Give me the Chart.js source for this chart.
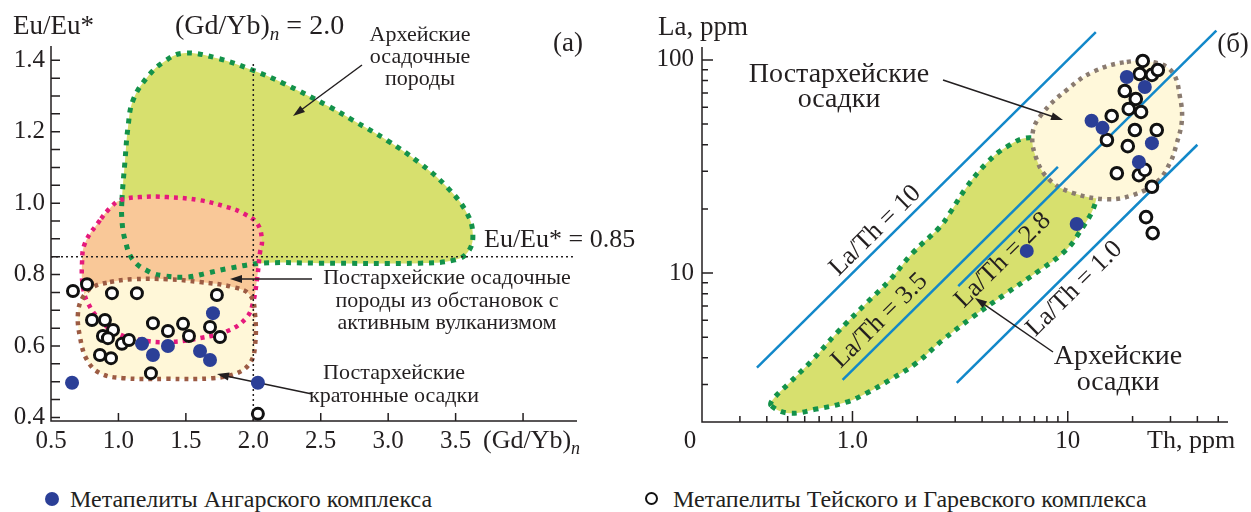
<!DOCTYPE html>
<html>
<head>
<meta charset="utf-8">
<script src="https://cdn.jsdelivr.net/npm/chart.js@4.4.1/dist/chart.umd.min.js"></script>
<style>
  body { margin: 0; background: #fff; width: 1251px; height: 512px; overflow: hidden; position: relative;
         font-family: "Liberation Serif", "Times New Roman", serif; color: #231f20; }
  #ca { position: absolute; left: 0; top: 0; }
  #cb { position: absolute; left: 640px; top: 0; }
  .leg { position: absolute; top: 484px; font-size: 24px; line-height: 30px; white-space: nowrap; }
  .mk { position: absolute; top: 492px; border-radius: 50%; box-sizing: border-box; }
</style>
</head>
<body>
<canvas id="ca" width="640" height="462"></canvas>
<canvas id="cb" width="611" height="462"></canvas>
<div class="mk" style="left:45px;width:14px;height:14px;background:#2b3f97"></div>
<div class="leg" style="left:70px">Метапелиты Ангарского комплекса</div>
<div class="mk" style="left:645px;width:13px;height:13px;border:2.5px solid #111;background:#fff"></div>
<div class="leg" style="left:673px">Метапелиты Тейского и Гаревского комплекса</div>
<script>
// ---------- panel (а): Eu/Eu* vs (Gd/Yb)n ----------
const gdybAngara = [0.656, 1.175, 1.256, 1.367, 1.605, 1.679, 1.701, 2.034];
const euAngara   = [0.497, 0.606, 0.575, 0.600, 0.586, 0.561, 0.692, 0.497];
const gdybTeya = [0.663, 0.767, 0.952, 1.137, 1.730, 0.804, 0.900, 0.960, 0.885, 0.922, 1.026,
                  1.078, 0.863, 0.945, 1.256, 1.367, 1.479, 1.523, 1.679, 1.753, 1.241, 2.034];
const euTeya   = [0.754, 0.773, 0.748, 0.748, 0.743, 0.673, 0.673, 0.645, 0.628, 0.622, 0.606,
                  0.617, 0.575, 0.566, 0.664, 0.642, 0.662, 0.628, 0.653, 0.625, 0.524, 0.410];

// field outlines (а)
const archeanAx = [1.026, 1.049, 1.071, 1.108, 1.212, 1.330, 1.479, 1.731, 1.997, 2.220, 2.568, 2.739, 2.991, 3.235, 3.436,
                   3.584, 3.628, 3.591, 3.495, 3.235, 2.494, 2.072, 1.827, 1.656, 1.508, 1.345, 1.234, 1.108, 1.049, 1.026];
const archeanAy = [1.008, 1.120, 1.213, 1.288, 1.352, 1.394, 1.420, 1.406, 1.372, 1.336, 1.269, 1.232, 1.176, 1.112, 1.045,
                   0.972, 0.910, 0.863, 0.841, 0.832, 0.832, 0.832, 0.818, 0.804, 0.793, 0.796, 0.807, 0.841, 0.897, 0.952];
const volcanicX = [0.863, 0.752, 0.730, 0.737, 0.774, 0.863, 0.989, 1.160, 1.360, 1.605, 1.827, 1.953,
                   1.997, 2.027, 2.049, 2.064, 2.027, 1.923, 1.805, 1.605, 1.360, 1.160, 1.011, 0.937];
const volcanicY = [0.952, 0.888, 0.832, 0.765, 0.720, 0.673, 0.636, 0.617, 0.611, 0.622, 0.645, 0.681,
                   0.720, 0.785, 0.860, 0.897, 0.944, 0.972, 0.989, 1.008, 1.017, 1.017, 1.008, 0.986];
const cratonX = [0.937, 1.108, 1.360, 1.605, 1.849, 1.975, 2.012, 2.012, 1.975, 1.879,
                 1.701, 1.360, 1.034, 0.863, 0.767, 0.715, 0.700, 0.737, 0.811];
const cratonY = [0.779, 0.787, 0.787, 0.779, 0.765, 0.743, 0.692, 0.597, 0.552, 0.524,
                 0.510, 0.508, 0.510, 0.524, 0.561, 0.625, 0.692, 0.737, 0.765];

const gdybRef = 2.0;
const euRef = 0.85;
const aXTicks = [0.5, 1.0, 1.5, 2.0, 2.5, 3.0, 3.5, 4.0];
const aXLabels = ['0.5', '1.0', '1.5', '2.0', '2.5', '3.0', '3.5', ''];
const aYLabelValues = [0.4, 0.6, 0.8, 1.0, 1.2, 1.4];
const aYLabels = ['0.4', '0.6', '0.8', '1.0', '1.2', '1.4'];

// ---------- panel (б): La vs Th ----------
const thAngara = [18.8, 22.8, 12.9, 14.5, 24.6, 21.4, 6.45, 11.0];
const laAngara = [83.2, 74.6, 51.8, 48.0, 40.7, 33.2, 12.7, 17.0];
const thTeya = [22.3, 21.6, 24.6, 26.2, 18.4, 20.7, 19.2, 21.9, 16.0, 20.5, 25.9, 15.2, 19.0, 16.9, 21.4, 22.8, 24.6, 23.1, 24.8];
const laTeya = [98.9, 85.9, 85.1, 89.7, 71.5, 65.6, 58.9, 57.0, 54.6, 46.9, 46.9, 42.1, 39.4, 29.4, 28.8, 30.5, 25.4, 18.3, 15.4];

const archeanBx = [0.420, 0.509, 0.680, 0.938, 1.16, 1.49, 1.98, 2.62, 3.61, 5.20, 7.41, 9.48, 11.0, 13.6, 12.7,
                   9.68, 6.66, 5.20, 4.20, 3.39, 2.83, 2.54, 1.90, 1.49, 1.16, 0.843, 0.652, 0.509, 0.425];
const archeanBy = [2.38, 2.20, 2.30, 2.48, 2.73, 3.15, 3.78, 4.84, 6.21, 8.05, 10.3, 12.4, 14.8, 22.5, 30.5,
                   38.6, 43.1, 39.1, 32.8, 25.3, 19.1, 16.4, 12.4, 9.27, 7.22, 5.22, 3.91, 3.05, 2.54];
const postArchX = [18.8, 25.9, 30.8, 33.2, 33.9, 32.1, 29.8, 25.9, 20.0, 15.2, 10.5, 8.25, 7.18, 6.87, 7.65, 9.89, 13.1];
const postArchY = [97.9, 96.8, 86.9, 67.0, 52.2, 40.7, 32.8, 26.7, 23.2, 22.2, 23.8, 27.3, 34.0, 45.4, 56.4, 72.3, 87.9];

const laThRatios = [10, 3.5, 2.8, 1.0];
const laThFrom = [0.36, 0.90, 3.1, 3.05];
const laThTo = [13.5, 9.0, 49, 40];
const laThLabels = ['La/Th = 10', 'La/Th = 3.5', 'La/Th = 2.8', 'La/Th = 1.0'];

const bYMinor = [3, 4, 5, 6, 7, 8, 9, 20, 30, 40, 50, 60, 70, 80, 90];
const bYMajor = [10, 100];
const bXMinor = [0.3, 0.4, 0.5, 0.6, 0.7, 0.8, 0.9, 2, 3, 4, 5, 6, 7, 8, 9, 20, 30, 40, 50];
const bXMajor = [1, 10];

const INK = '#231f20';
const FONT = '"Liberation Serif", "Times New Roman", serif';
const pts = (xs, ys) => xs.map((x, i) => ({ x: x, y: ys[i] }));

function txt(ctx, s, x, y, size, align, style) {
    ctx.font = (style || '') + ' ' + size + 'px ' + FONT;
    ctx.textAlign = align || 'center';
    ctx.textBaseline = 'middle';
    ctx.fillStyle = INK;
    ctx.fillText(s, x, y);
    return ctx.measureText(s).width;
}

// "(Gd/Yb)" + italic subscript n + tail
function gdyb(ctx, x, y, size, tail) {
    let w = txt(ctx, '(Gd/Yb)', x, y, size, 'left');
    let w2 = txt(ctx, 'n', x + w, y + 8, Math.round(size * 0.68), 'left', 'italic');
    if (tail) txt(ctx, tail, x + w + w2, y, size, 'left');
}

function arrow(ctx, x0, y0, x1, y1) {
    const a = Math.atan2(y1 - y0, x1 - x0), L = 12, W = 4;
    ctx.save();
    ctx.strokeStyle = INK; ctx.fillStyle = INK; ctx.lineWidth = 1.5;
    ctx.beginPath(); ctx.moveTo(x0, y0); ctx.lineTo(x1 - 8 * Math.cos(a), y1 - 8 * Math.sin(a)); ctx.stroke();
    ctx.beginPath(); ctx.moveTo(x1, y1);
    ctx.lineTo(x1 - L * Math.cos(a) + W * Math.sin(a), y1 - L * Math.sin(a) - W * Math.cos(a));
    ctx.lineTo(x1 - L * Math.cos(a) - W * Math.sin(a), y1 - L * Math.sin(a) + W * Math.cos(a));
    ctx.closePath(); ctx.fill();
    ctx.restore();
}

// close the outlines smoothly, the way the radar chart does it
const loopShapes = {
    id: 'loopShapes',
    afterDatasetsUpdate(chart) {
        chart.data.datasets.forEach((ds, i) => {
            if (ds.closed) {
                const line = chart.getDatasetMeta(i).dataset;
                if (line) { line._loop = true; line._fullLoop = true; }
            }
        });
    }
};

function fieldFill(xs, ys, color, order) {
    return { data: pts(xs, ys), closed: true, showLine: true, fill: 'shape', backgroundColor: color,
             borderWidth: 0, pointRadius: 0, tension: 0.4, order: order };
}
function fieldLine(xs, ys, color, width, dash, order) {
    return { data: pts(xs, ys), closed: true, showLine: true, fill: false, borderColor: color,
             borderWidth: width, borderDash: dash, borderCapStyle: 'butt', pointRadius: 0, tension: 0.4, order: order };
}

const common = {
    responsive: false,
    animation: false,
    events: [],
    elements: { line: { capBezierPoints: false } },
    plugins: { legend: { display: false }, tooltip: { enabled: false } }
};

// ---------------- chart (а) ----------------
const axesA = {
    id: 'axesA',
    afterDatasetDraw(chart, args) {
        if (args.index !== 2) return;
        const ctx = chart.ctx;
        ctx.save();
        txt(ctx, 'Архейские', 420, 35, 22);
        txt(ctx, 'осадочные', 420, 57, 22);
        txt(ctx, 'породы', 420, 79, 22);
        arrow(ctx, 362, 65, 293, 116);
        txt(ctx, 'Eu/Eu* = 0.85', 484, 240, 26, 'left');
        txt(ctx, 'Постархейские осадочные', 447, 278, 22);
        txt(ctx, 'породы из обстановок с', 447, 301, 22);
        txt(ctx, 'активным вулканизмом', 447, 323, 22);
        arrow(ctx, 312, 279, 230, 279);
        txt(ctx, 'Постархейские', 394, 373, 22);
        txt(ctx, 'кратонные осадки', 394, 396, 22);
        arrow(ctx, 312, 394, 217, 374);
        ctx.restore();
    },
    afterDraw(chart) {
        const { ctx, chartArea: a, scales: { x, y } } = chart;
        ctx.save();
        ctx.strokeStyle = INK; ctx.lineWidth = 1.5;
        ctx.beginPath();
        ctx.moveTo(a.left, a.top); ctx.lineTo(a.left, a.bottom); ctx.lineTo(a.right, a.bottom);
        aXTicks.forEach(v => { const p = x.getPixelForValue(v); ctx.moveTo(p, a.bottom); ctx.lineTo(p, a.bottom - 8); });
        for (let k = 8; k <= 28; k++) {
            const p = y.getPixelForValue(k * 0.05);
            ctx.moveTo(a.left, p); ctx.lineTo(a.left + 9, p);
        }
        ctx.stroke();
        aXTicks.forEach((v, i) => txt(ctx, aXLabels[i], x.getPixelForValue(v), 441, 25));
        aYLabelValues.forEach((v, i) => txt(ctx, aYLabels[i], 45, y.getPixelForValue(v), 25, 'right'));
        gdyb(ctx, 483, 441, 26);
        txt(ctx, 'Eu/Eu*', 13, 27, 27, 'left');
        gdyb(ctx, 175, 27, 28, ' = 2.0');
        txt(ctx, '(а)', 568, 44, 27);
        ctx.restore();
    }
};

new Chart(document.getElementById('ca'), {
    type: 'scatter',
    data: {
        datasets: [
            { data: pts(gdybAngara, euAngara), pointRadius: 7, pointBackgroundColor: '#2b3f97', pointBorderWidth: 0, order: 0 },
            { data: pts(gdybTeya, euTeya), pointRadius: 5.5, pointBackgroundColor: '#fff', pointBorderColor: '#111', pointBorderWidth: 3, order: 0 },
            { data: [{ x: gdybRef, y: 0.39 }, { x: gdybRef, y: 1.39 }], showLine: true, borderColor: INK, borderWidth: 1.5,
              borderDash: [2, 3], pointRadius: 0, order: 1 },
            { data: [{ x: 0.5, y: euRef }, { x: 4.37, y: euRef }], showLine: true, borderColor: INK, borderWidth: 1.5,
              borderDash: [2, 3], pointRadius: 0, order: 1, clip: false },
            fieldLine(cratonX, cratonY, '#9c5b43', 4.5, [4, 5], 2),
            fieldLine(volcanicX, volcanicY, '#e5197c', 4.5, [4, 5], 3),
            fieldLine(archeanAx, archeanAy, '#13924a', 5, [5, 6], 4),
            fieldFill(cratonX, cratonY, '#fff7d8', 5),
            fieldFill(volcanicX, volcanicY, '#f9c898', 6),
            fieldFill(archeanAx, archeanAy, '#d7e06e', 7)
        ]
    },
    options: Object.assign({}, common, {
        layout: { padding: { left: 51, top: 46, right: 63, bottom: 41 } },
        scales: {
            x: { type: 'linear', min: 0.5, max: 4.4, display: false },
            y: { type: 'linear', min: 0.39, max: 1.44, display: false }
        }
    }),
    plugins: [loopShapes, axesA]
});

// ---------------- chart (б) ----------------
const OX = 640;
const axesB = {
    id: 'axesB',
    afterDatasetDraw(chart, args) {
        if (args.index !== 2) return;
        const { ctx, scales: { x, y } } = chart;
        ctx.save();
        laThRatios.forEach((k, i) => {
            const x0 = x.getPixelForValue(laThFrom[i]), y0 = y.getPixelForValue(k * laThFrom[i]);
            const x1 = x.getPixelForValue(laThTo[i]), y1 = y.getPixelForValue(k * laThTo[i]);
            const ang = Math.atan2(y1 - y0, x1 - x0);
            const len = Math.hypot(x1 - x0, y1 - y0);
            const nx = (y1 - y0) / len, ny = -(x1 - x0) / len;
            const at = [1.42, 1.51, 4.53, 9.53][i], off = [14, 16, -13, -16][i];
            const cx = x.getPixelForValue(at) + nx * off, cy = y.getPixelForValue(k * at) + ny * off;
            ctx.save();
            ctx.translate(cx, cy); ctx.rotate(ang);
            txt(ctx, laThLabels[i], 0, 0, 26);
            ctx.restore();
        });
        txt(ctx, 'Постархейские', 839 - OX, 75, 28);
        txt(ctx, 'осадки', 839 - OX, 100, 28);
        arrow(ctx, 943 - OX, 80, 1063 - OX, 120);
        txt(ctx, 'Архейские', 1118 - OX, 357, 28);
        txt(ctx, 'осадки', 1118 - OX, 383, 28);
        arrow(ctx, 1053 - OX, 352, 975 - OX, 298);
        ctx.restore();
    },
    afterDraw(chart) {
        const { ctx, chartArea: a, scales: { x, y } } = chart;
        ctx.save();
        ctx.strokeStyle = INK; ctx.lineWidth = 1.5;
        ctx.beginPath();
        ctx.moveTo(a.left, a.top); ctx.lineTo(a.left, a.bottom); ctx.lineTo(a.right, a.bottom);
        bXMinor.forEach(v => { const p = x.getPixelForValue(v); ctx.moveTo(p, a.bottom); ctx.lineTo(p, a.bottom - 6); });
        bXMajor.forEach(v => { const p = x.getPixelForValue(v); ctx.moveTo(p, a.bottom); ctx.lineTo(p, a.bottom - 11); });
        bYMinor.forEach(v => { const p = y.getPixelForValue(v); ctx.moveTo(a.left, p); ctx.lineTo(a.left + 6, p); });
        bYMajor.forEach(v => { const p = y.getPixelForValue(v); ctx.moveTo(a.left, p); ctx.lineTo(a.left + 11, p); });
        ctx.stroke();
        txt(ctx, '1.0', x.getPixelForValue(1), 441, 25);
        txt(ctx, '10', x.getPixelForValue(10), 441, 25);
        txt(ctx, '0', a.left - 12, 441, 25);
        txt(ctx, 'Th, ppm', 1147 - OX, 441, 26, 'left');
        txt(ctx, '10', a.left - 8, y.getPixelForValue(10), 25, 'right');
        txt(ctx, '100', a.left - 8, y.getPixelForValue(100), 25, 'right');
        txt(ctx, 'La, ppm', 658 - OX, 28, 27, 'left');
        txt(ctx, '(б)', 1233 - OX, 45, 27);
        ctx.restore();
    }
};

const ratioSets = laThRatios.map((k, i) => ({
    data: [{ x: laThFrom[i], y: k * laThFrom[i] }, { x: laThTo[i], y: k * laThTo[i] }],
    showLine: true, borderColor: '#1288c9', borderWidth: 2.5, pointRadius: 0, order: 1, clip: false
}));

new Chart(document.getElementById('cb'), {
    type: 'scatter',
    data: {
        datasets: [
            { data: pts(thAngara, laAngara), pointRadius: 7, pointBackgroundColor: '#2b3f97', pointBorderWidth: 0, order: 0 },
            { data: pts(thTeya, laTeya), pointRadius: 5.8, pointBackgroundColor: '#fff', pointBorderColor: '#111', pointBorderWidth: 3, order: 0 }
        ].concat(ratioSets).concat([
            fieldLine(postArchX, postArchY, '#8a7b70', 4.5, [4, 5], 2),
            fieldFill(postArchX, postArchY, '#fff8da', 3),
            fieldLine(archeanBx, archeanBy, '#13924a', 5, [5, 6], 4),
            fieldFill(archeanBx, archeanBy, '#d7e06e', 5)
        ])
    },
    options: Object.assign({}, common, {
        layout: { padding: { left: 62, top: 47, right: 23, bottom: 40 } },
        scales: {
            x: { type: 'logarithmic', min: 0.2, max: 55.5, display: false },
            y: { type: 'logarithmic', min: 2, max: 115, display: false }
        }
    }),
    plugins: [loopShapes, axesB]
});
</script>
</body>
</html>
